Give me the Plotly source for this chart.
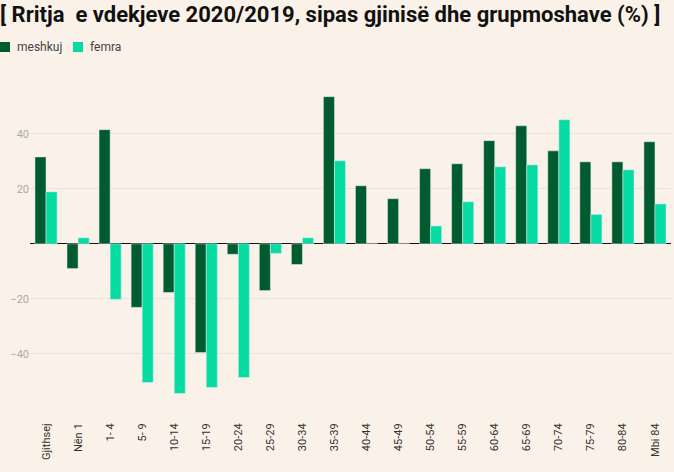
import plotly.graph_objects as go

categories = ["Gjithsej", "Nën 1", "1- 4", "5- 9", "10-14", "15-19", "20-24", "25-29", "30-34",
              "35-39", "40-44", "45-49", "50-54", "55-59", "60-64", "65-69", "70-74", "75-79",
              "80-84", "Mbi 84"]
meshkuj = [31.6, -9.0, 41.5, -23.1, -17.7, -39.5, -3.8, -17.0, -7.5,
           53.5, 21.1, 16.4, 27.3, 29.1, 37.5, 42.9, 33.8, 29.8, 29.8, 37.1]
femra = [18.9, 2.2, -20.2, -50.4, -54.4, -52.2, -48.6, -3.5, 2.2,
         30.2, 0, 0, 6.5, 15.3, 28.0, 28.7, 45.1, 10.7, 26.9, 14.5]
y_ticks = [-40, -20, 40, 20]
series = [("meshkuj", meshkuj, "#005c2f"), ("femra", femra, "#06dba3")]

W, H = 674, 472
ML, MR, MT, MB = 30, 3, 65, 70
PW, PH = W - ML - MR, H - MT - MB


def px_x(p):
    return (p - ML) / PW


def px_y(p):
    return 1 + (MT - p) / PH


BG = "#faf1e8"
fig = go.Figure()
for name, vals, col in series:
    fig.add_trace(go.Bar(x=categories, y=vals, name=name, marker_color=col))

# manual legend (top-left, flush with the page edge)
legend_x = [0, 73]
for (name, vals, col), lx in zip(series, legend_x):
    fig.add_shape(type="rect", xref="paper", yref="paper",
                  x0=px_x(lx), x1=px_x(lx + 10), y0=px_y(52), y1=px_y(42),
                  fillcolor=col, line=dict(width=0))
    fig.add_annotation(text=name, xref="paper", yref="paper", x=px_x(lx + 15), y=px_y(47),
                       xanchor="left", yanchor="middle", showarrow=False,
                       font=dict(family="Roboto", size=12, color="#444444"))

fig.update_layout(
    width=W, height=H,
    paper_bgcolor=BG, plot_bgcolor=BG,
    margin=dict(l=ML, r=MR, t=MT, b=MB),
    barmode="group", bargap=0.31, bargroupgap=0,
    showlegend=False,
    title=dict(text="<b>[ Rritja  e vdekjeve 2020/2019, sipas gjinisë dhe grupmoshave (%) ]</b>",
               x=0.0, xanchor="left", y=0.985, yanchor="top",
               font=dict(family="Roboto", size=22, color="#111111")),
    font=dict(family="Roboto"),
)
fig.update_xaxes(tickangle=-90, tickfont=dict(size=11, color="#333333"),
                 showgrid=False, ticks="outside", ticklen=16, tickcolor="rgba(0,0,0,0)",
                 showline=False, zeroline=False)
fig.update_yaxes(range=[-57.5, 65], tickvals=y_ticks, showgrid=True, gridcolor="#ebe3da",
                 gridwidth=1, zeroline=True, zerolinecolor="#111111", zerolinewidth=1.2,
                 tickfont=dict(size=11, color="#aaaaaa"), ticks="", showline=False)
fig.write_html("out.html")
